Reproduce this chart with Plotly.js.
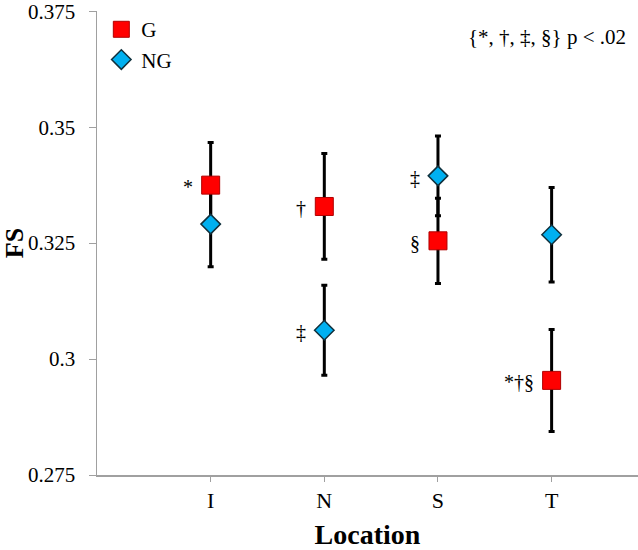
<!DOCTYPE html>
<html>
<head>
<meta charset="utf-8">
<script src="https://cdn.plot.ly/plotly-3.0.1.min.js"></script>
<style>html,body{margin:0;padding:0;background:#fff;}#chart{width:638px;height:550px;}</style>
</head>
<body>
<div id="chart"></div>
<script>
const categories = ['I', 'N', 'S', 'T'];
const xPos = [0, 1, 2, 3];
const gValues = [0.3375, 0.3329, 0.3255, 0.2954];
const gErrors = [0.0092, 0.0114, 0.0092, 0.0110];
const ngValues = [0.3291, 0.3062, 0.3395, 0.3268];
const ngErrors = [0.0092, 0.0097, 0.0086, 0.0102];
const gSig = ['*', '†', '§', '*†§'];
const ngSig = ['', '‡', '‡', ''];
const yTickVals = [0.275, 0.3, 0.325, 0.35, 0.375];
const yTickText = ['0.275', '0.3', '0.325', '0.35', '0.375'];
const noteText = '{*, †, ‡, §} p < .02';

const serif = 'Liberation Serif, Times New Roman, serif';

const errStyle = {thickness: 3, width: 3, color: '#000'};

const traces = [
  {x: xPos, y: gValues, type: 'scatter', mode: 'markers', showlegend: false, hoverinfo: 'skip',
   marker: {size: 1, color: 'rgba(0,0,0,0)'},
   error_y: Object.assign({type: 'data', array: gErrors, visible: true}, errStyle)},
  {x: xPos, y: ngValues, type: 'scatter', mode: 'markers', showlegend: false, hoverinfo: 'skip',
   marker: {size: 1, color: 'rgba(0,0,0,0)'},
   error_y: Object.assign({type: 'data', array: ngErrors, visible: true}, errStyle)},
  {x: xPos, y: ngValues, type: 'scatter', mode: 'markers', name: 'NG',
   marker: {symbol: 'diamond', size: 15, color: '#00B0F0', line: {color: '#10303c', width: 1.5}}},
  {x: xPos, y: gValues, type: 'scatter', mode: 'markers', name: 'G',
   marker: {symbol: 'square', size: 18, color: '#FF0000', line: {color: '#B00000', width: 1}}}
];

const annotations = [];
xPos.forEach((x, i) => {
  if (gSig[i]) annotations.push({x: x, y: gValues[i], xref: 'x', yref: 'y', text: gSig[i], showarrow: false,
    xanchor: 'right', yanchor: 'middle', xshift: -16, yshift: -2, font: {family: serif, size: 20, color: '#000'}});
  if (ngSig[i]) annotations.push({x: x, y: ngValues[i], xref: 'x', yref: 'y', text: ngSig[i], showarrow: false,
    xanchor: 'right', yanchor: 'middle', xshift: -16, yshift: -2, font: {family: serif, size: 20, color: '#000'}});
});
annotations.push({x: 0.982, y: 0.945, xref: 'paper', yref: 'paper', text: noteText, showarrow: false,
  xanchor: 'right', yanchor: 'middle', font: {family: serif, size: 21, color: '#000'}});

const layout = {
  width: 638, height: 550,
  margin: {l: 97, r: 0, t: 11, b: 75, pad: 0},
  paper_bgcolor: '#fff', plot_bgcolor: '#fff',
  font: {family: serif, size: 20, color: '#000'},
  showlegend: true,
  legend: {x: 0.008, y: 1.004, xanchor: 'left', yanchor: 'top', traceorder: 'reversed',
    font: {family: serif, size: 21, color: '#000'}, bgcolor: 'rgba(0,0,0,0)', borderwidth: 0},
  xaxis: {
    range: [-1, 3.76], tickvals: xPos, ticktext: categories,
    showgrid: false, zeroline: false, showline: true, linecolor: '#a0a0a0', linewidth: 1.5,
    ticks: 'outside', ticklen: 5, tickcolor: '#a0a0a0', tickwidth: 1,
    tickfont: {family: serif, size: 22, color: '#000'},
    title: {text: '<b>Location</b>', font: {family: serif, size: 28, color: '#000'}, standoff: 21},
    automargin: false
  },
  yaxis: {
    range: [0.275, 0.37505], tickvals: yTickVals, ticktext: yTickText,
    showgrid: false, zeroline: false, showline: true, linecolor: '#a0a0a0', linewidth: 1.5,
    ticks: 'outside', ticklen: 7, tickcolor: '#a0a0a0', tickwidth: 1,
    ticklabelstandoff: 9, ticklabeloverflow: 'allow',
    tickfont: {family: serif, size: 21, color: '#000'},
    title: {text: '<b>FS</b>', font: {family: serif, size: 26, color: '#000'}, standoff: 4},
    automargin: false
  },
  annotations: annotations
};

Plotly.newPlot('chart', traces, layout, {displayModeBar: false, staticPlot: true});
</script>
</body>
</html>
